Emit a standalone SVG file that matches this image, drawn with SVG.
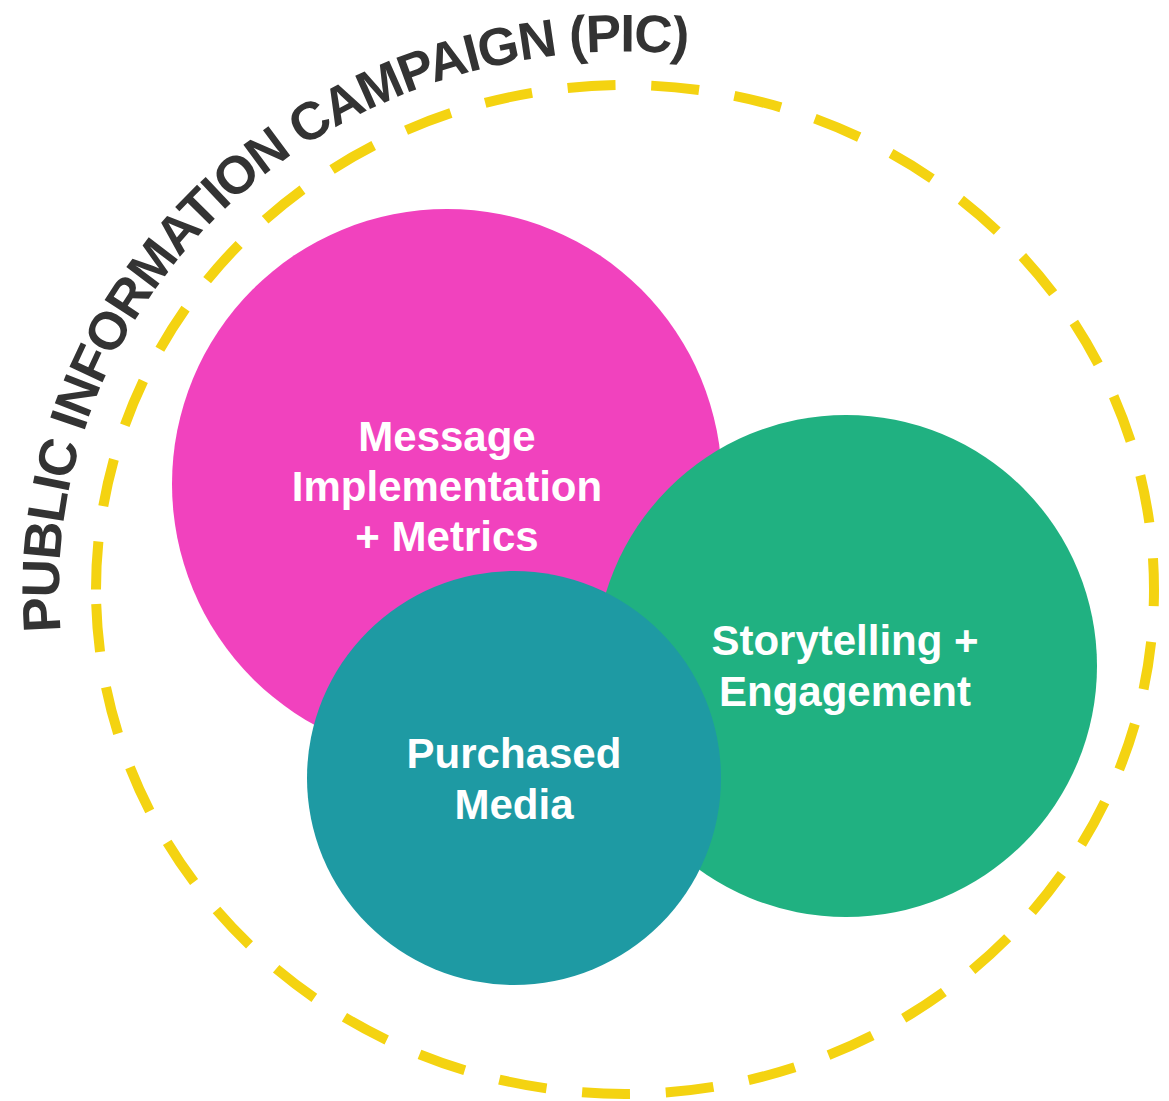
<svg xmlns="http://www.w3.org/2000/svg" width="1169" height="1101" viewBox="0 0 1169 1101">
  <style>
    .label { font-family: "Liberation Sans", Arial, sans-serif; font-weight: bold; font-size: 42px; fill: #ffffff; text-anchor: middle; }
    .title { font-family: "Liberation Sans", Arial, sans-serif; font-weight: bold; font-size: 53px; letter-spacing: -1.5px; fill: #333333; }
    .ring { fill: none; stroke: #F4D311; stroke-width: 10; stroke-dasharray: 48 35.8; }
  </style>
  <defs>
    <path id="titlePath" d="M 61.2 636.4 A 566 538 0 0 1 908 123.6"/>
  </defs>
  <rect x="0" y="0" width="1169" height="1101" fill="#ffffff"/>

  <g id="pic-boundary">
    <path class="ring" d="M 96 589.5 A 529 504.5 0 0 1 1154 589.5 A 529 504.5 0 0 1 96 589.5 Z"/>
    <text class="title"><textPath href="#titlePath" startOffset="5">PUBLIC INFORMATION CAMPAIGN (PIC)</textPath></text>
  </g>

  <g id="connectors"></g>

  <g id="message-implementation">
    <circle cx="447" cy="484" r="275" fill="#F142BE"/>
    <text class="label" x="447" y="451">Message</text>
    <text class="label" x="447" y="501">Implementation</text>
    <text class="label" x="447" y="551">+ Metrics</text>
  </g>

  <g id="storytelling-engagement">
    <circle cx="846" cy="666" r="251" fill="#20B181"/>
    <text class="label" x="845" y="655">Storytelling +</text>
    <text class="label" x="845" y="706">Engagement</text>
  </g>

  <g id="purchased-media">
    <circle cx="514" cy="778" r="207" fill="#1E9AA3"/>
    <text class="label" x="514" y="768">Purchased</text>
    <text class="label" x="514" y="819">Media</text>
  </g>
</svg>
